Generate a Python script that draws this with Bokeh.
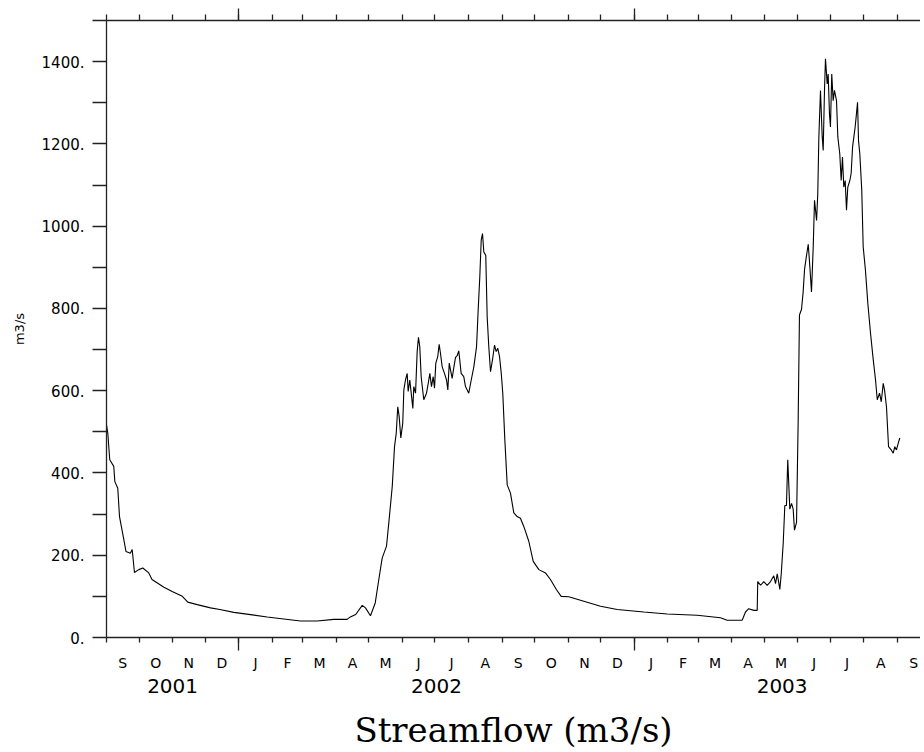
import pandas as pd
from bokeh.plotting import figure
from bokeh.models import Range1d, FixedTicker, LinearAxis
from bokeh.embed import file_html
from bokeh.resources import INLINE

# Record starts 2001-09-01; x values are days since that date
START = pd.Timestamp("2001-09-01")

day = [0, 1.2, 3, 6.7, 7.7, 10.4, 12, 16, 18, 22, 23.7, 25.8, 29.8, 33.5, 39, 42, 53, 60.6,
       70, 75, 83.7, 96, 104.6, 117.5, 148.3, 163.6, 179, 194.4, 209.8, 222, 225, 230, 236,
       239, 243.6, 248, 251.3, 254.4, 258.4, 260.5, 263.7, 265.8, 267.4, 268.8, 270.1, 271.6,
       273.4, 274.4, 275.9, 277.5, 278.4, 279.9, 281.2, 282.7, 283.6, 285.2, 286.7, 287.9,
       289.1, 290.4, 292.8, 295.3, 296.9, 298.4, 299.9, 301.5, 302.7, 303.9, 305.7, 307,
       308.2, 309.8, 311.9, 313.8, 315, 316.3, 317.5, 319, 320.5, 322.1, 323.6, 325.1, 327.3,
       329.7, 331.3, 334.3, 336.6, 339, 341.5, 343, 344.5, 345.8, 347, 348.2, 350, 351.3,
       352.8, 354.4, 356.2, 358.1, 359.6, 361.1, 362.7, 364.3, 365.7, 367.6, 369.8, 372.8,
       375.9, 379, 382, 385.1, 389.7, 393.8, 399, 405.1, 409.7, 415.3, 419.6, 426.6, 440.5,
       455.9, 471.3, 495.9, 517.4, 545.1, 566.6, 572.8, 586.6, 589.7, 592.7, 597.4, 600.5,
       601, 603.6, 606.6, 609.7, 612.8, 615.8, 617.4, 619, 621.4, 622.7, 624.5, 626, 627.5,
       628.7, 630.6, 632.2, 633.7, 634.9, 636.8, 638.3, 639.5, 641.4, 642.9, 644.2, 645.7,
       647.6, 649, 650.6, 652.2, 653.4, 655.3, 656.4, 657.4, 658.9, 660.5, 661.4, 662.6,
       663.5, 665.1, 666, 667.2, 668.1, 669.3, 670.6, 671.8, 673.7, 674.9, 676.7, 678, 679.2,
       680.4, 681.7, 682.9, 684.1, 686, 687.2, 688.5, 689.7, 690.9, 692.1, 693.1, 694, 695.2,
       697, 698.3, 700.4, 702.6, 705.1, 707.6, 709.7, 711.3, 713.4, 715, 716.8, 718, 719.8,
       721.7, 724.2, 726, 727.5, 729, 730.6, 732.1]

flow = [517, 497, 432, 416, 379, 363, 294, 238, 209, 205, 214, 158, 165, 169, 157, 141, 122, 112,
        100, 86, 80, 72, 68, 61, 50, 45, 40, 40, 44, 44, 50, 56, 78,
        72, 53, 84, 141, 193, 222, 278, 367, 464, 497, 561, 537, 485,
        521, 602, 626, 642, 598, 626, 594, 557, 610, 594, 695, 730,
        707, 634, 578, 594, 618, 642, 610, 634, 606, 667, 683, 713,
        691, 658, 642, 626, 602, 667, 650, 630, 656, 681, 685, 697, 642,
        634, 610, 594, 626, 658, 707, 796, 877, 966, 982, 937, 929, 780,
        707, 646, 675, 711, 695, 703, 683, 642, 594, 481, 371, 351,
        303, 294, 290, 270, 234, 185, 165, 157, 141, 116, 100, 99, 88,
        76, 68, 62, 57, 54, 48, 42, 42, 62, 70, 66, 66,
        136, 127, 136, 127, 136, 150, 131, 155, 117, 155, 229, 321, 321,
        432, 312, 326, 312, 261, 280, 525, 784, 798, 840, 895, 923,
        956, 905, 840, 950, 1063, 1014, 1079, 1217, 1330, 1217, 1184, 1330,
        1407, 1346, 1370, 1273, 1241, 1370, 1305, 1330, 1305, 1217, 1176, 1111, 1168,
        1095, 1111, 1039, 1095, 1111, 1128, 1192, 1217, 1241, 1273, 1301, 1208, 1176,
        1087, 950, 893, 812, 739, 675, 626, 578, 594, 573, 618, 602, 561,
        464, 456, 448, 464, 456, 472, 485]

y_ticks = [0, 200, 400, 600, 800, 1000, 1200, 1400]
y_minor = [100, 300, 500, 700, 900, 1100, 1300, 1500]
y_labels = ["0.", "200.", "400.", "600.", "800.", "1000.", "1200.", "1400."]
years = ["2001", "2002", "2003"]

month_starts = pd.date_range("2001-09-01", "2003-10-01", freq="MS")
month_days = [float((m - START).days) for m in month_starts]
jan_days = [d for m, d in zip(month_starts, month_days) if m.month == 1]
mid_days = [(a + b) / 2 for a, b in zip(month_days[:-1], month_days[1:])]
month_letters = [m.strftime("%b")[0] for m in month_starts[:-1]]
edges = [month_days[0]] + jan_days + [month_days[-1]]
year_pos = [(a + b) / 2 for a, b in zip(edges[:-1], edges[1:])]

p = figure(width=920, height=752, x_range=Range1d(0, 751.2), y_range=Range1d(0, 1500),
           output_backend="svg", toolbar_location=None, x_axis_location=None,
           y_axis_location=None, min_border_left=106, min_border_right=0,
           min_border_top=20, min_border_bottom=114)
p.outline_line_color = None
p.grid.visible = False
p.background_fill_color = "white"

AX = "#222222"
SANS = "DejaVu Sans"

# left axis
yax = LinearAxis(ticker=FixedTicker(ticks=y_ticks, minor_ticks=y_minor),
                 major_label_overrides={float(t): l for t, l in zip(y_ticks, y_labels)},
                 major_tick_out=14, major_tick_in=0, minor_tick_out=14, minor_tick_in=0,
                 major_label_standoff=8, major_label_text_font=SANS,
                 major_label_text_font_size="15px", major_label_text_color="black",
                 axis_label="m3/s", axis_label_text_font=SANS, axis_label_text_font_size="13px",
                 axis_label_text_font_style="normal", axis_label_text_color="black",
                 axis_label_standoff=12,
                 axis_line_color=AX, major_tick_line_color=AX, minor_tick_line_color=AX,
                 axis_line_width=1.3, major_tick_line_width=1.3, minor_tick_line_width=1.3)
p.add_layout(yax, "left")

# top axis: month ticks, longer at January
tax = LinearAxis(ticker=FixedTicker(ticks=jan_days, minor_ticks=month_days),
                 major_label_overrides={d: "" for d in jan_days},
                 major_label_text_font_size="1px", major_label_standoff=0,
                 major_tick_out=12, major_tick_in=0, minor_tick_out=6, minor_tick_in=0,
                 axis_line_color=AX, major_tick_line_color=AX, minor_tick_line_color=AX,
                 axis_line_width=1.3, major_tick_line_width=1.3, minor_tick_line_width=1.3)
p.add_layout(tax, "above")

# bottom axis: month ticks
bax = LinearAxis(ticker=FixedTicker(ticks=jan_days, minor_ticks=month_days),
                 major_label_overrides={d: "" for d in jan_days},
                 major_label_text_font_size="1px", major_label_standoff=0,
                 major_tick_out=13, major_tick_in=0, minor_tick_out=5, minor_tick_in=0,
                 axis_line_color=AX, major_tick_line_color=AX, minor_tick_line_color=AX,
                 axis_line_width=1.3, major_tick_line_width=1.3, minor_tick_line_width=1.3)
p.add_layout(bax, "below")

# month letters
max_ = LinearAxis(ticker=FixedTicker(ticks=mid_days, minor_ticks=[]),
                  major_label_overrides={d: l for d, l in zip(mid_days, month_letters)},
                  major_tick_out=0, major_tick_in=0, axis_line_color=None,
                  major_tick_line_color=None, minor_tick_line_color=None,
                  major_label_standoff=4, major_label_text_font=SANS,
                  major_label_text_font_size="14px", major_label_text_color="black")
p.add_layout(max_, "below")

# years + title
yrax = LinearAxis(ticker=FixedTicker(ticks=year_pos, minor_ticks=[]),
                  major_label_overrides={d: l for d, l in zip(year_pos, years)},
                  major_tick_out=0, major_tick_in=0, axis_line_color=None,
                  major_tick_line_color=None, minor_tick_line_color=None,
                  major_label_standoff=5, major_label_text_font=SANS,
                  major_label_text_font_size="20px", major_label_text_color="black",
                  axis_label="Streamflow (m3/s)", axis_label_text_font="DejaVu Serif",
                  axis_label_text_font_size="34px", axis_label_text_font_style="normal",
                  axis_label_text_color="black", axis_label_standoff=14)
p.add_layout(yrax, "below")

p.line(day, flow, line_color="black", line_width=1.1)

open("out.html", "w").write(file_html(p, INLINE))
